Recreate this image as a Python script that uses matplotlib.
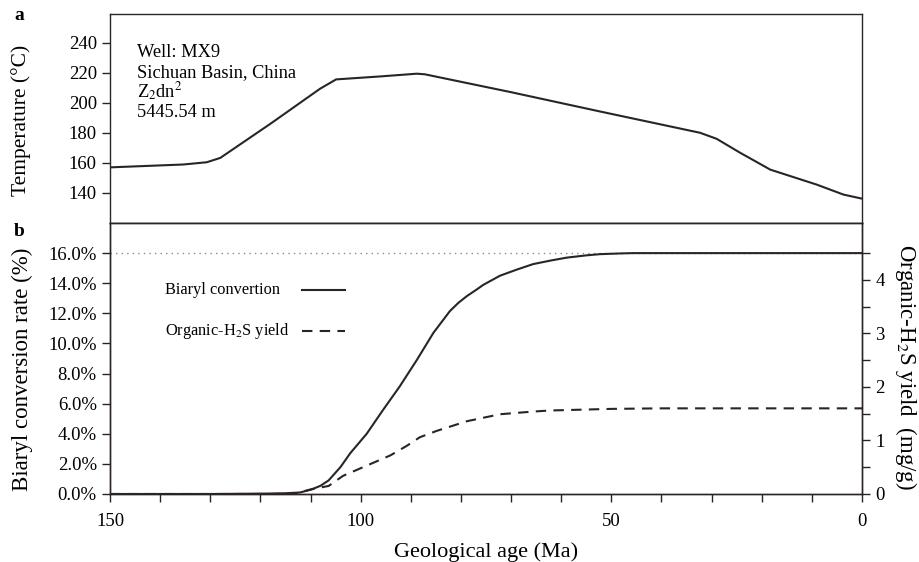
import matplotlib
matplotlib.use("Agg")
import matplotlib.pyplot as plt
import numpy as np

plt.rcParams['font.family'] = ['Liberation Serif', 'DejaVu Serif']
plt.rcParams['mathtext.fontset'] = 'stix'

# Panel a: thermal history
temp_age = [150, 135.4, 130.7, 128, 118, 108.1, 104.9, 96, 88.8, 87.2, 70, 52.3, 32.3, 29, 24.3, 18.3, 9.0, 3.7, 0]
temp_val = [157, 158.9, 160.4, 163.3, 186, 209.3, 215.5, 217.5, 219.3, 218.9, 207, 194.2, 180, 176, 166.7, 155.5, 145.5, 138.9, 136.2]

# Panel b: biaryl conversion (%)
conv_age = [150, 130, 118, 115, 112.1, 109.8, 108, 106.4, 104, 102.1, 98.8, 95.5, 92.2, 88.8, 85.5, 82.2,
            80.5, 78.8, 77, 75.5, 72.2, 68.9, 65.6, 62.2, 58.9, 55, 52.3, 48, 45.7, 40, 0]
conv_val = [0.0, 0.0, 0.03, 0.05, 0.1, 0.3, 0.55, 0.9, 1.8, 2.7, 4.0, 5.6, 7.15, 8.9, 10.7, 12.15,
            12.7, 13.15, 13.55, 13.9, 14.5, 14.9, 15.27, 15.5, 15.7, 15.85, 15.93, 15.98, 16.0, 16.0, 16.0]

# Panel b: organic H2S yield (mg/g)
h2s_age = [150, 118, 113, 109.8, 106.4, 103.5, 98.8, 94.1, 90.8, 88.2, 84.8, 78.8, 72.2, 65.6, 62.2, 50, 40, 0]
h2s_val = [0.0, 0.0, 0.01, 0.09, 0.15, 0.34, 0.53, 0.72, 0.9, 1.06, 1.18, 1.36, 1.49, 1.54, 1.56, 1.59, 1.6, 1.6]

temp_ticks = [140, 160, 180, 200, 220, 240]
conv_ticks = [0, 2, 4, 6, 8, 10, 12, 14, 16]
h2s_ticks = [0, 1, 2, 3, 4]
age_ticks = list(range(0, 151, 10))
info_lines = ['Well: MX9', 'Sichuan Basin, China', 'Z$_2$dn$^2$', '5445.54 m']

ink = '#2b2424'
fs_tick = 13.5
fs_lab = 15.5

fig = plt.figure(figsize=(9.19, 5.62), dpi=100)
L, R = 110 / 919, 862 / 919
ya_top, y_mid, yb_bot = 1 - 14 / 562, 1 - 223 / 562, 1 - 494 / 562
axa = fig.add_axes([L, y_mid, R - L, ya_top - y_mid])
axb = fig.add_axes([L, yb_bot, R - L, y_mid - yb_bot])
axr = axb.twinx()

for ax in (axa, axb, axr):
    for s in ax.spines.values():
        s.set_color(ink)
        s.set_linewidth(1.0)
    ax.tick_params(colors=ink, labelcolor='black', labelsize=fs_tick, width=1.0, length=6)

# panel a
axa.plot(temp_age, temp_val, color=ink, lw=1.5)
axa.set_xlim(150, 0)
axa.set_ylim(120, 259)
axa.set_yticks(temp_ticks)
axa.tick_params(axis='x', bottom=False, labelbottom=False)
axa.set_ylabel('Temperature (°C)', fontsize=fs_lab, va='center', ha='center')
axa.yaxis.set_label_coords(-0.118, 0.49)
info_y = [0.792, 0.700, 0.600, 0.507]
for yy, line in zip(info_y, info_lines):
    axa.text(0.036, yy, line, transform=axa.transAxes, fontsize=13.2,
             va='baseline', ha='left')

# panel b
axb.axhline(16, color='#8a8a8a', lw=1.0, ls=(0, (1, 3)), zorder=1)
axb.plot(conv_age, conv_val, color=ink, lw=1.5, zorder=3)
axb.set_xlim(150, 0)
axb.set_ylim(0, 18)
axb.set_yticks(conv_ticks)
axb.set_yticklabels([f'{v:.1f}%' for v in conv_ticks])
axb.set_xticks(age_ticks)
axb.set_xticklabels([str(a) if a % 50 == 0 else '' for a in age_ticks])
axb.tick_params(axis='x', pad=8)
axb.set_ylabel('Biaryl conversion rate (%)', fontsize=16.5, va='center', ha='center')
axb.yaxis.set_label_coords(-0.117, 0.46)
axb.set_xlabel('Geological age (Ma)', fontsize=fs_lab + 0.5, va='center', ha='center')
axb.xaxis.set_label_coords(0.5, -0.213)

axr.plot(h2s_age, h2s_val, color=ink, lw=1.5, ls=(0, (5, 3.5)), zorder=3)
axr.set_ylim(0, 18 * 4.5 / 16)
axr.set_yticks(h2s_ticks)
axr.set_yticks([0.5, 1.5, 2.5, 3.5, 4.5], minor=True)
axr.tick_params(axis='y', which='minor', length=6, width=1.0, colors=ink)
axr.set_ylabel('Organic-H$_2$S yield  (mg/g)', fontsize=16.5, rotation=270, va='center', ha='center')
axr.yaxis.set_label_coords(1.0585, 0.47)

# legend drawn manually
axb.text(0.073, 0.753, 'Biaryl convertion', transform=axb.transAxes, fontsize=11.8, va='center')
axb.text(0.073, 0.601, 'Organic-H$_2$S yield', transform=axb.transAxes, fontsize=11.8, va='center')
axb.plot([0.255, 0.3125], [0.753, 0.753], transform=axb.transAxes, color=ink, lw=1.5)
axb.plot([0.255, 0.3125], [0.601, 0.601], transform=axb.transAxes, color=ink, lw=1.5, ls=(0, (5, 3.5)))

fig.text(14 / 919, 1 - 15 / 562, 'a', fontsize=14, fontweight='bold', va='center')
fig.text(14 / 919, 1 - 232 / 562, 'b', fontsize=14, fontweight='bold', va='center')

fig.savefig('out.png', dpi=100)
